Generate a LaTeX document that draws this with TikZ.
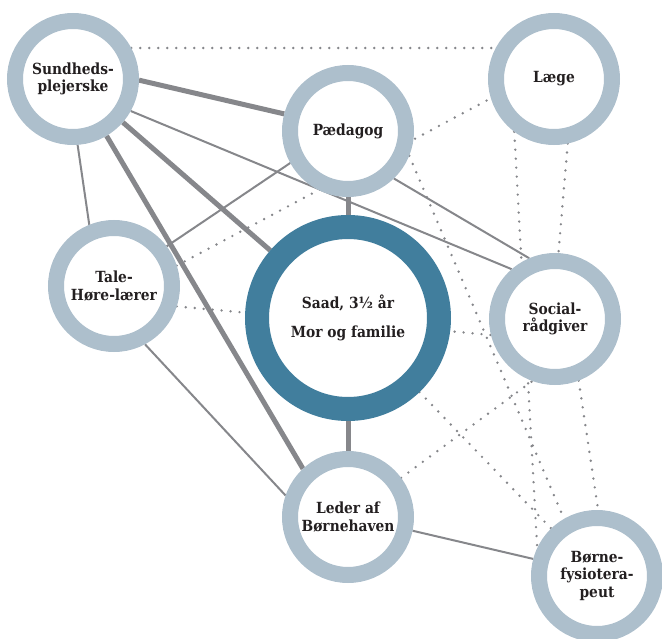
\documentclass[tikz,border=0pt]{standalone}
\usepackage{fontspec}
\setmainfont{DejaVu Serif Condensed}
\usetikzlibrary{backgrounds}
\definecolor{ringlight}{RGB}{173,191,204}
\definecolor{ringdark}{RGB}{65,126,157}
\definecolor{linegray}{RGB}{134,135,139}
\definecolor{textdark}{RGB}{35,31,32}

\tikzset{
  person/.style={circle, draw=ringlight, fill=white, line width=12pt, minimum size=87pt,
    inner sep=0pt, align=center, text=textdark, font=\bfseries\fontsize{11.5}{13.3}\selectfont},
  hub/.style={person, draw=ringdark, line width=18pt, minimum size=136.5pt,
    font=\bfseries\fontsize{11.5}{21.75}\selectfont},
  strong/.style={draw=linegray, line width=3.75pt},
  weak/.style={draw=linegray, line width=1.5pt},
  loose/.style={draw=linegray, line width=2pt, line cap=round, dash pattern=on 0pt off 6.75pt},
}

\begin{document}
\begin{tikzpicture}[x=0.75pt,y=0.75pt,yscale=-1,xscale=1]
\useasboundingbox (0,0) rectangle (662,639);

% Circles
\node [person] (sund) at (73,79) {Sundheds-\\plejerske};
\node [person] (laege) at (554,79) {Læge};
\node [person] (ped) at (348,131) {Pædagog};
\node [person] (tale) at (114,286) {Tale-\\Høre-lærer};
\node [hub] (saad) at (348,318) {Saad, 3½ år\\Mor og familie};
\node [person] (social) at (555,319) {Social-\\rådgiver};
\node [person] (leder) at (348,517) {Leder af\\Børnehaven};
\node [person] (bor) at (597,576) {Børne-\\fysiotera-\\peut};

\begin{scope}[on background layer]
% Strong ties
\draw [strong] (sund.-1) -- (ped.165);
\draw [strong] (sund) -- (saad);
\draw [strong] (sund) -- (leder.133);
\draw [strong] (ped) -- (saad);
\draw [strong] (saad) -- (leder);
% Weak ties
\draw [weak] (sund.-86) -- (tale.112);
\draw [weak] (sund.-29) -- (social.131);
\draw [weak] (ped.-151) -- (tale.37);
\draw [weak] (ped.-46) -- (social.113);
\draw [weak] (tale.-62) -- (leder.161);
\draw [weak] (leder.-12) -- (bor.165);
% Loose ties
\draw [loose] (sund.28) -- (laege.152);
\draw [loose] (tale.18) -- (laege.-163);
\draw [loose] (tale.-18) -- (social.-166);
\draw [loose] (laege.-127) -- (bor.155);
\draw [loose] (laege.-78) -- (social.87);
\draw [loose] (ped.-22) -- (bor.120);
\draw [loose] (saad) -- (bor);
\draw [loose] (leder) -- (social.-110);
\draw [loose] (social.-69) -- (bor.89);
\end{scope}

\end{tikzpicture}
\end{document}
